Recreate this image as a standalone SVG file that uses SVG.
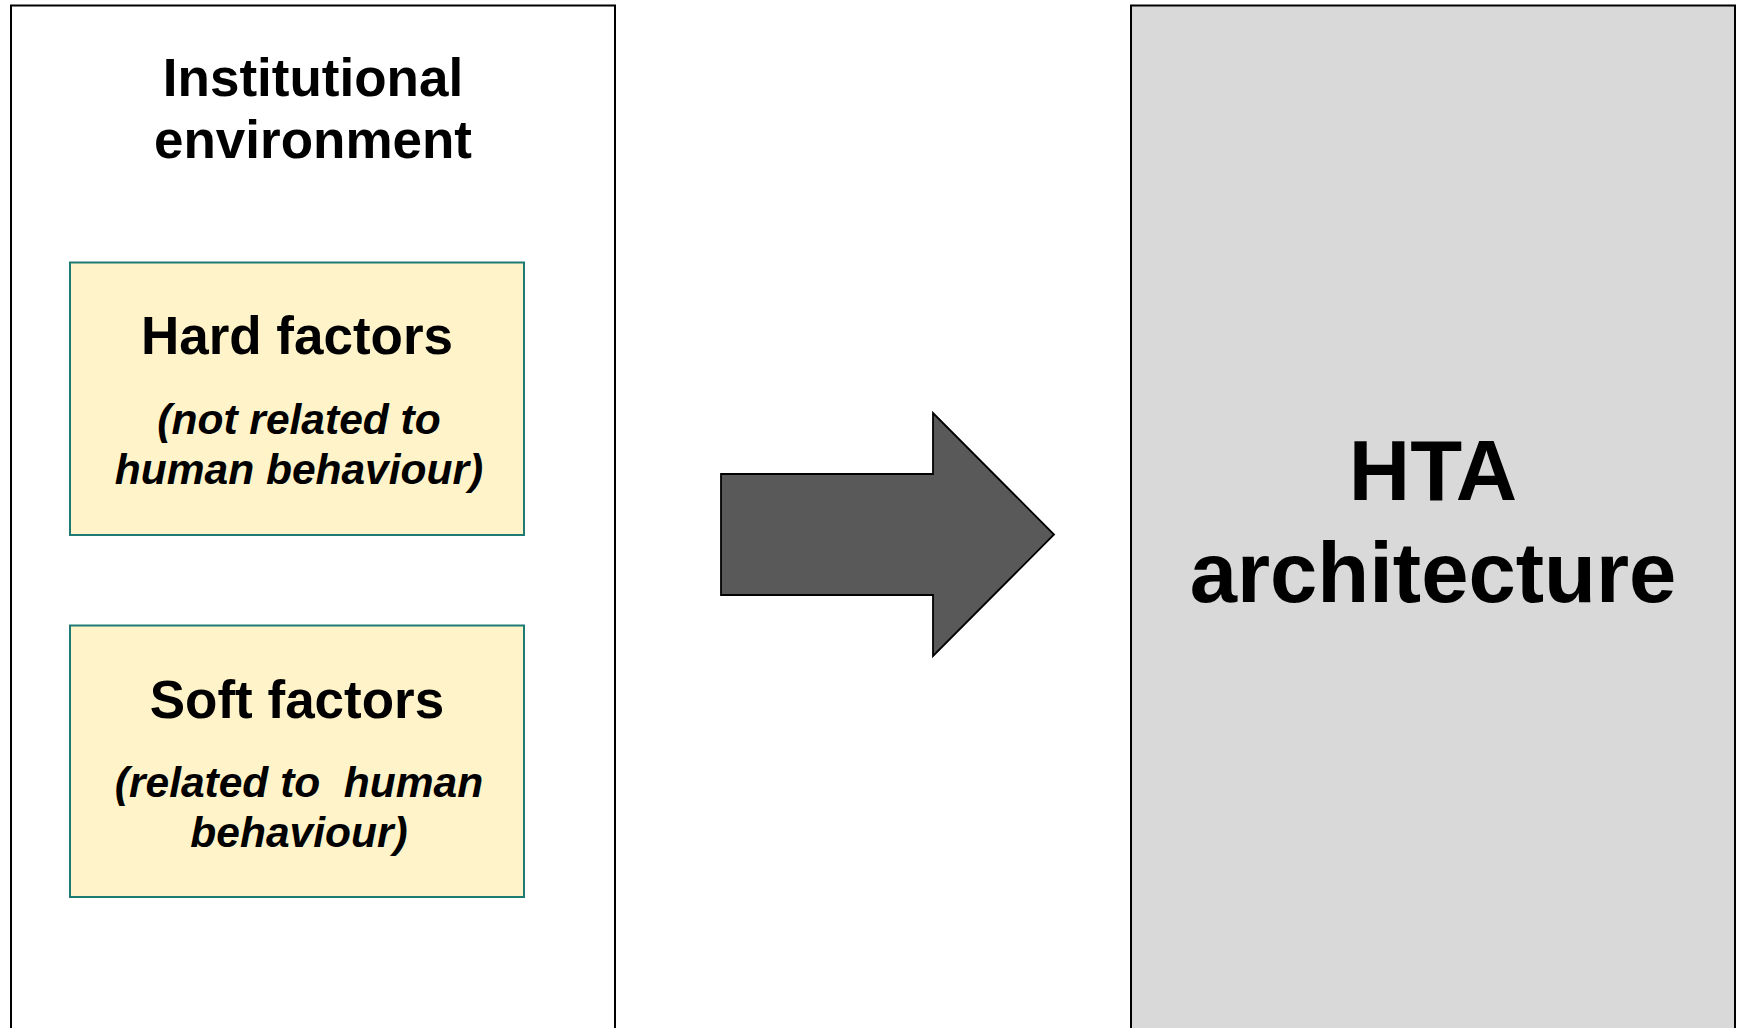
<svg xmlns="http://www.w3.org/2000/svg" width="1737" height="1028" viewBox="0 0 1737 1028">
  <style>
    .panel { stroke: #000000; stroke-width: 2; }
    .factor { fill: #FFF3C9; stroke: #1E7B74; stroke-width: 2; }
    .head { font-family: "Liberation Sans", Arial, sans-serif; font-weight: bold; fill: #000000; text-anchor: middle; }
    .note { font-family: "Liberation Sans", Arial, sans-serif; font-weight: bold; font-style: italic; fill: #000000; text-anchor: middle; font-size: 42.5px; white-space: pre; }
  </style>
  <rect width="1737" height="1028" fill="#FFFFFF"/>

  <!-- Institutional environment panel -->
  <g id="institutional-environment">
    <rect class="panel" x="11" y="5.5" width="604" height="1040" fill="#FFFFFF"/>
    <text class="head" x="313" y="96" font-size="53">Institutional</text>
    <text class="head" x="313" y="158" font-size="53">environment</text>
  </g>

  <!-- Hard factors -->
  <g id="hard-factors">
    <rect class="factor" x="70" y="262.5" width="454" height="272.5"/>
    <text class="head" x="297" y="354" font-size="53">Hard factors</text>
    <text class="note" x="299" y="434">(not related to</text>
    <text class="note" x="299" y="484">human behaviour)</text>
  </g>

  <!-- Soft factors -->
  <g id="soft-factors">
    <rect class="factor" x="70" y="625.5" width="454" height="271.5"/>
    <text class="head" x="297" y="718" font-size="53">Soft factors</text>
    <text class="note" x="299" y="797" xml:space="preserve">(related to  human</text>
    <text class="note" x="299" y="847">behaviour)</text>
  </g>

  <!-- Block arrow from environment to architecture -->
  <g id="connectors">
    <path d="M721 474 H933 V413 L1054 534.5 L933 656 V595 H721 Z" fill="#595959" stroke="#000000" stroke-width="1.8" stroke-linejoin="miter"/>
  </g>

  <!-- HTA architecture panel -->
  <g id="hta-architecture">
    <rect class="panel" x="1131" y="5.5" width="604" height="1040" fill="#D9D9D9"/>
    <text class="head" x="1433" y="500" font-size="85">HTA</text>
    <text class="head" x="1433" y="602" font-size="85">architecture</text>
  </g>
</svg>
